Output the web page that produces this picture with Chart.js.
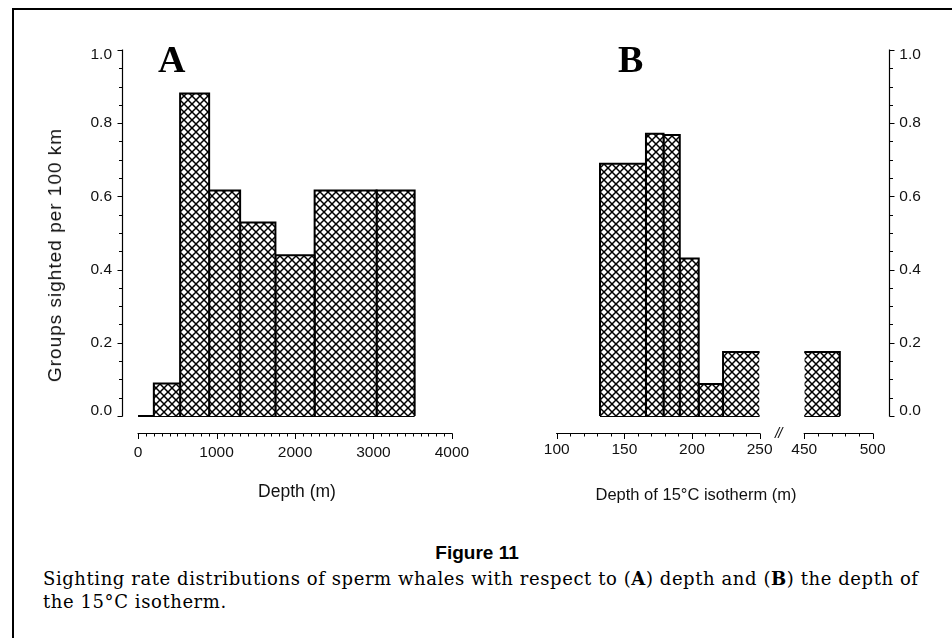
<!DOCTYPE html>
<html>
<head>
<meta charset="utf-8">
<script src="https://cdn.jsdelivr.net/npm/chart.js@4/dist/chart.umd.min.js"></script>
<style>
html,body{margin:0;padding:0;background:#fff;}
body{width:952px;height:638px;position:relative;overflow:hidden;font-family:"Liberation Sans",Arial,sans-serif;color:#111;}
.frame{position:absolute;left:12px;top:8px;width:980px;height:680px;border-top:2px solid #000;border-left:2px solid #000;}
canvas{position:absolute;top:0;}
.t{position:absolute;white-space:nowrap;}
.letter{font-family:"Liberation Serif","Times New Roman",serif;font-weight:bold;font-size:38px;line-height:38px;color:#000;}
.xt{font-size:17.5px;line-height:20px;transform:translateX(-50%);}
.yt{font-size:19px;line-height:20px;transform:translate(-50%,-50%) rotate(-90deg);letter-spacing:1px;}
.fig{font-weight:bold;font-size:19px;line-height:22px;transform:translateX(-50%);color:#000;}
.cap{font-family:"DejaVu Serif","Liberation Serif",serif;font-size:18px;line-height:23px;color:#000;}
.cap span{display:block;}
.brk{font-size:15px;line-height:15px;letter-spacing:-1px;font-style:italic;}
</style>
</head>
<body>
<div class="frame"></div>
<canvas id="cA" width="480" height="520" style="left:0px;width:480px;height:520px;"></canvas>
<canvas id="cB1" width="300" height="520" style="left:480px;width:300px;height:520px;"></canvas>
<canvas id="cB2" width="172" height="520" style="left:780px;width:172px;height:520px;"></canvas>

<div class="t letter" style="left:158px;top:40px;">A</div>
<div class="t letter" style="left:618px;top:40px;">B</div>
<div class="t yt" style="left:55px;top:255px;">Groups sighted per 100 km</div>
<div class="t xt" style="left:297px;top:481px;">Depth (m)</div>
<div class="t xt" style="left:696px;top:484px;font-size:16.5px;">Depth of 15°C isotherm (m)</div>
<div class="t brk" style="left:775px;top:425px;">//</div>
<div class="t fig" style="left:477px;top:542px;">Figure 11</div>
<div class="t cap" id="cap" style="left:43px;top:567px;">
<span id="cap1">Sighting rate distributions of sperm whales with respect to (<b>A</b>) depth and (<b>B</b>) the depth of</span>
<span>the 15°C isotherm.</span>
</div>

<script>
// ---------------- data ----------------
// Panel A: depth bins (m) and sighting rates (groups per 100 km)
const depthEdges = [0, 200, 535, 905, 1300, 1750, 2250, 3040, 3525];
const depthRates = [0, 0.089, 0.881, 0.616, 0.529, 0.439, 0.616, 0.616];
// Panel B: depth of 15°C isotherm bins (m) and sighting rates
const isoEdges = [132, 166, 179, 191, 205, 223, 476];
const isoRates = [0.689, 0.771, 0.768, 0.430, 0.0875, 0.175];
// tick labels
const yTickLabels = ['0.0', '0.2', '0.4', '0.6', '0.8', '1.0'];
const depthTickLabels = ['0', '1000', '2000', '3000', '4000'];
const isoTickLabelsLeft = ['100', '150', '200', '250'];
const isoTickLabelsRight = ['450', '500'];
const yMinorStep = 0.05;
const depthMinorStep = 100;
const isoMinorStep = 10;

// ---------------- helpers ----------------
function stepTicks(lo, hi, step) {
  const n = Math.round((hi - lo) / step);
  const out = [];
  for (let i = 0; i <= n; i++) out.push({ value: +(lo + i * step).toFixed(6) });
  return out;
}
function labelFor(labels, v) {
  const l = labels.find(t => Math.abs(parseFloat(t) - v) < 1e-6);
  return l === undefined ? '' : l;
}
function yLabel(v) {
  const l = labelFor(yTickLabels, v);
  if (!l) return '';
  const lo = parseFloat(yTickLabels[0]), hi = parseFloat(yTickLabels[yTickLabels.length - 1]);
  if (Math.abs(v - hi) < 1e-6) return ['', l];
  if (Math.abs(v - lo) < 1e-6) return [l, ''];
  return l;
}

function makeHatch() {
  const c = document.createElement('canvas');
  c.width = 8; c.height = 8;
  const g = c.getContext('2d');
  g.fillStyle = '#fff'; g.fillRect(0, 0, 8, 8);
  g.strokeStyle = '#000'; g.lineWidth = 1.5;
  g.beginPath();
  g.moveTo(-2, -2); g.lineTo(10, 10);
  g.moveTo(-2, 10); g.lineTo(10, -2);
  g.stroke();
  return g.createPattern(c, 'repeat');
}
const hatch = makeHatch();

function barSets(edges, rates) {
  const sets = rates.map((v, i) => ({
    data: [
      { x: edges[i], y: 0 }, { x: edges[i], y: v },
      { x: edges[i + 1], y: v }, { x: edges[i + 1], y: 0 }
    ],
    showLine: true, fill: 'origin', backgroundColor: hatch,
    borderColor: '#000', borderWidth: 2, borderJoinStyle: 'miter',
    pointRadius: 0, pointHoverRadius: 0, tension: 0, clip: 0
  }));
  // baseline under the bars
  sets.push({
    data: [{ x: edges[0], y: 0 }, { x: edges[edges.length - 1], y: 0 }],
    showLine: true, fill: false, borderColor: '#000', borderWidth: 2,
    pointRadius: 0, tension: 0, clip: 0
  });
  return sets;
}

// draws axis lines and tick marks from the chart's own scales
const axisPlugin = {
  id: 'axisLines',
  afterDraw(chart, args, o) {
    const ctx = chart.ctx, ca = chart.chartArea;
    ctx.save();
    ctx.strokeStyle = '#000';
    ctx.lineCap = 'butt';
    (o.axes || []).forEach(a => {
      const s = chart.scales[a.id];
      const ticks = s.ticks;
      const p0 = s.getPixelForValue(ticks[0].value);
      const p1 = s.getPixelForValue(ticks[ticks.length - 1].value);
      ctx.lineWidth = 1.2;
      ctx.beginPath();
      if (s.isHorizontal()) {
        const y = Math.round(ca.bottom) + 0.5;
        ctx.moveTo(p0 - 0.6, y); ctx.lineTo(p1 + 0.6, y);
        ctx.stroke();
        ctx.lineWidth = 1;
        ctx.beginPath();
        ticks.forEach(t => {
          const major = t.label !== '' && t.label !== undefined;
          const px = Math.round(s.getPixelForValue(t.value)) + 0.5;
          ctx.moveTo(px, y); ctx.lineTo(px, y + (major ? 5.5 : 3));
        });
        ctx.stroke();
      } else {
        const left = a.side === 'left';
        const x = (left ? Math.round(ca.left) : Math.round(ca.right)) + 0.5;
        ctx.moveTo(x, p0 + 0.6); ctx.lineTo(x, p1 - 0.6);
        ctx.stroke();
        ctx.lineWidth = 1;
        ctx.beginPath();
        ticks.forEach(t => {
          const major = t.label !== '' && t.label !== undefined;
          const py = Math.round(s.getPixelForValue(t.value)) + 0.5;
          const len = major ? 5 : 3.5;
          ctx.moveTo(x, py); ctx.lineTo(left ? x - len : x + len, py);
        });
        ctx.stroke();
      }
    });
    ctx.restore();
  }
};

Chart.defaults.font.family = '"Liberation Sans", Arial, sans-serif';
Chart.defaults.color = '#111';

const Y_MIN = -0.04645, Y_MAX = 1;
const tickFont = { size: 15.5 };
const yTickFont = { size: 15.5, lineHeight: 0.62 };

function yScale(position, display, width) {
  return {
    type: 'linear', min: Y_MIN, max: Y_MAX, position, display,
    afterBuildTicks: s => { s.ticks = stepTicks(0, 1, yMinorStep); },
    afterFit: s => { s.width = width; },
    grid: { display: false, drawTicks: false }, border: { display: false },
    ticks: { autoSkip: false, padding: 10, font: yTickFont, color: '#111', callback: v => yLabel(v) }
  };
}
function xScale(min, max, lo, hi, step, labels, pad) {
  return {
    type: 'linear', min, max, position: 'bottom',
    afterBuildTicks: s => { s.ticks = stepTicks(lo, hi, step); },
    afterFit: s => { s.height = 40; },
    grid: { display: false, drawTicks: false }, border: { display: false },
    ticks: { autoSkip: false, maxRotation: 0, minRotation: 0, padding: pad, font: tickFont, color: '#111',
      callback: v => labelFor(labels, v) }
  };
}
const common = {
  responsive: false, animation: false, devicePixelRatio: 1, events: [],
  plugins: { legend: { display: false }, tooltip: { enabled: false } }
};

// Panel A
new Chart(document.getElementById('cA'), {
  type: 'scatter',
  data: { datasets: barSets(depthEdges, depthRates) },
  options: Object.assign({}, common, {
    layout: { padding: { left: 0, top: 50, right: 7, bottom: 47 } },
    scales: {
      x: xScale(-205.9, 4227.4, 0, 4000, depthMinorStep, depthTickLabels, 10.5),
      y: yScale('left', true, 122)
    },
    plugins: Object.assign({}, common.plugins, { axisLines: { axes: [{ id: 'x' }, { id: 'y', side: 'left' }] } })
  }),
  plugins: [axisPlugin]
});

// Panel B, left segment (100-250)
new Chart(document.getElementById('cB1'), {
  type: 'scatter',
  data: { datasets: barSets(isoEdges, isoRates) },
  options: Object.assign({}, common, {
    layout: { padding: { left: 76.7, top: 50, right: 18.3, bottom: 47 } },
    scales: {
      x: xScale(100, 250, 100, 250, isoMinorStep, isoTickLabelsLeft, 7.5),
      y: yScale('left', false, 0)
    },
    plugins: Object.assign({}, common.plugins, { axisLines: { axes: [{ id: 'x' }] } })
  }),
  plugins: [axisPlugin]
});

// Panel B, right segment (450-500) with right-hand axis
new Chart(document.getElementById('cB2'), {
  type: 'scatter',
  data: { datasets: barSets(isoEdges, isoRates) },
  options: Object.assign({}, common, {
    layout: { padding: { left: 24.3, top: 50, right: 0, bottom: 47 } },
    scales: {
      x: xScale(450, 512.2, 450, 500, isoMinorStep, isoTickLabelsRight, 7.5),
      y: yScale('right', true, 62.7)
    },
    plugins: Object.assign({}, common.plugins, { axisLines: { axes: [{ id: 'x' }, { id: 'y', side: 'right' }] } })
  }),
  plugins: [axisPlugin]
});

// fit caption line width to the figure's text block
(function fitCaption() {
  const cap = document.getElementById('cap');
  const l1 = document.getElementById('cap1');
  const r = document.createRange(); r.selectNodeContents(l1);
  const w = r.getBoundingClientRect().width;
  const n = l1.textContent.length;
  const ls = (875 - w) / (n - 1);
  cap.style.letterSpacing = ls.toFixed(3) + 'px';
})();
</script>
</body>
</html>
